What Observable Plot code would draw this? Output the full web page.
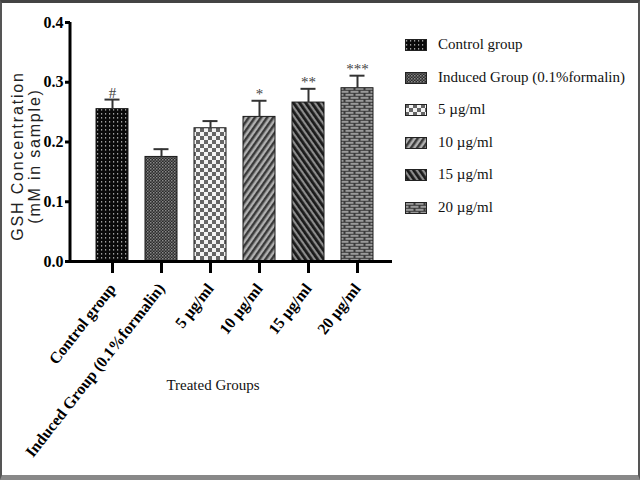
<!DOCTYPE html>
<html><head><meta charset="utf-8">
<script src="https://cdn.jsdelivr.net/npm/d3@7"></script>
<script src="https://cdn.jsdelivr.net/npm/@observablehq/plot@0.6"></script>
<style>
html,body{margin:0;padding:0;background:#fff;}
#wrap{position:relative;width:640px;height:480px;overflow:hidden;font-family:"Liberation Serif",serif;}
#border{position:absolute;left:0;top:0;width:640px;height:480px;box-sizing:border-box;border:2px solid #555;border-top:3px solid #444;border-bottom:5px solid #888;pointer-events:none;}
#legend{position:absolute;left:405px;top:36px;font-size:15px;color:#111;}
#legend .row{height:32.6px;display:flex;align-items:flex-start;}
#legend svg{margin-right:11px;margin-top:3px;}
#ylab{position:absolute;left:26px;top:156px;transform:translate(-50%,-50%) rotate(-90deg);text-align:center;font-size:16px;line-height:17px;letter-spacing:1.8px;white-space:nowrap;color:#222;font-family:"Liberation Sans",Arial,sans-serif;}
#xlab{position:absolute;left:213px;top:385px;transform:translate(-50%,-50%);font-size:15px;color:#111;white-space:nowrap;}
</style>
</head><body>
<div id="wrap">
<svg width="0" height="0" style="position:absolute">
<defs>
<pattern id="p0" width="4" height="4" patternUnits="userSpaceOnUse">
<rect width="4" height="4" fill="#0a0a0a"/><rect x="1" y="1" width="1.2" height="1.6" fill="#a0a0a0"/>
</pattern>
<pattern id="p1" width="3" height="3" patternUnits="userSpaceOnUse">
<rect width="3" height="3" fill="#2a2a2a"/><rect x="0" y="0" width="1.5" height="1.5" fill="#8a8a8a"/><rect x="1.5" y="1.5" width="1.5" height="1.5" fill="#6a6a6a"/>
</pattern>
<pattern id="p2" width="8" height="8" patternUnits="userSpaceOnUse">
<rect width="8" height="8" fill="#f4f4f4"/><rect x="0" y="0" width="4" height="4" fill="#666"/><rect x="4" y="4" width="4" height="4" fill="#666"/>
</pattern>
<pattern id="p3" width="5" height="5" patternUnits="userSpaceOnUse" patternTransform="rotate(35)">
<rect width="5" height="5" fill="#b0b0b0"/><rect width="2.5" height="5" fill="#3a3a3a"/>
</pattern>
<pattern id="p4" width="5" height="5" patternUnits="userSpaceOnUse" patternTransform="rotate(-35)">
<rect width="5" height="5" fill="#8c8c8c"/><rect width="2.8" height="5" fill="#1a1a1a"/>
</pattern>
<pattern id="p5" width="10" height="6" patternUnits="userSpaceOnUse">
<rect width="10" height="6" fill="#3a3a3a"/><rect x="0.5" y="0.8" width="8" height="2" fill="#9a9a9a"/><rect x="5.5" y="3.8" width="8" height="2" fill="#9a9a9a"/><rect x="-4.5" y="3.8" width="8" height="2" fill="#9a9a9a"/>
</pattern>
</defs>
</svg>
<div id="chart"></div>
<div id="ylab">GSH Concentration<br>(mM in sample)</div>
<div id="xlab">Treated Groups</div>
<div id="legend"></div>
<div id="border"></div>
</div>
<script>
const groups = ["Control group", "Induced Group (0.1%formalin)", "5 µg/ml", "10 µg/ml", "15 µg/ml", "20 µg/ml"];
const means = [0.255, 0.175, 0.223, 0.242, 0.266, 0.290];
const errors = [0.016, 0.013, 0.012, 0.027, 0.023, 0.021];
const significance = ["#", "", "", "*", "**", "***"];
const yTicks = [0, 0.1, 0.2, 0.3, 0.4];
const patterns = ["url(#p0)", "url(#p1)", "url(#p2)", "url(#p3)", "url(#p4)", "url(#p5)"];

const data = groups.map((g, i) => ({group: g, mean: means[i], err: errors[i], sig: significance[i]}));

const plot = Plot.plot({
  width: 640,
  height: 480,
  marginLeft: 70,
  marginRight: 248,
  marginTop: 22,
  marginBottom: 219,
  style: {fontFamily: "Liberation Serif, serif", color: "#000", background: "transparent"},
  x: {domain: groups, range: [78.6, 390.4], paddingInner: 0.337, paddingOuter: 0.3, label: null},
  y: {domain: [0, 0.4], ticks: yTicks, label: null},
  color: {domain: groups, range: patterns},
  marks: [
    Plot.barY(data, {x: "group", y: "mean", fill: "group", stroke: "#1a1a1a", strokeWidth: 1}),
    Plot.ruleX(data, {x: "group", y1: "mean", y2: d => d.mean + d.err, stroke: "#333", strokeWidth: 2}),
    Plot.tickY(data, {x: "group", y: d => d.mean + d.err, stroke: "#333", strokeWidth: 2, insetLeft: 8.5, insetRight: 8.5}),
    Plot.text(data, {x: "group", y: d => d.mean + d.err, text: "sig", dy: -2, lineAnchor: "bottom", fontSize: 15, fill: "#444"}),
    Plot.ruleY([0], {stroke: "#000", strokeWidth: 3}),
    Plot.axisY({ticks: yTicks, tickFormat: d3.format(".1f"), tickSize: 5, tickPadding: 2, strokeWidth: 3, fontSize: 16, fontWeight: "bold", label: null}),
    Plot.axisX({tickSize: 12, tickPadding: 12, strokeWidth: 3, tickRotate: -52, fontSize: 16, fontWeight: "bold", label: null})
  ]
});
document.getElementById("chart").appendChild(plot);

// y-axis domain line using the plot's own y scale
const ys = plot.scale("y");
d3.select(plot).append("line")
  .attr("x1", 70).attr("x2", 70)
  .attr("y1", ys.apply(0) + 1.5).attr("y2", ys.apply(0.4))
  .attr("stroke", "#000").attr("stroke-width", 3);

// legend
const leg = d3.select("#legend");
groups.forEach((g, i) => {
  const row = leg.append("div").attr("class", "row");
  const s = row.append("svg").attr("width", 22).attr("height", 12);
  s.append("rect").attr("x", 0.5).attr("y", 0.5).attr("width", 21).attr("height", 11)
    .attr("fill", patterns[i]).attr("stroke", "#222").attr("stroke-width", 1);
  row.append("span").text(g);
});
</script>
</body></html>
